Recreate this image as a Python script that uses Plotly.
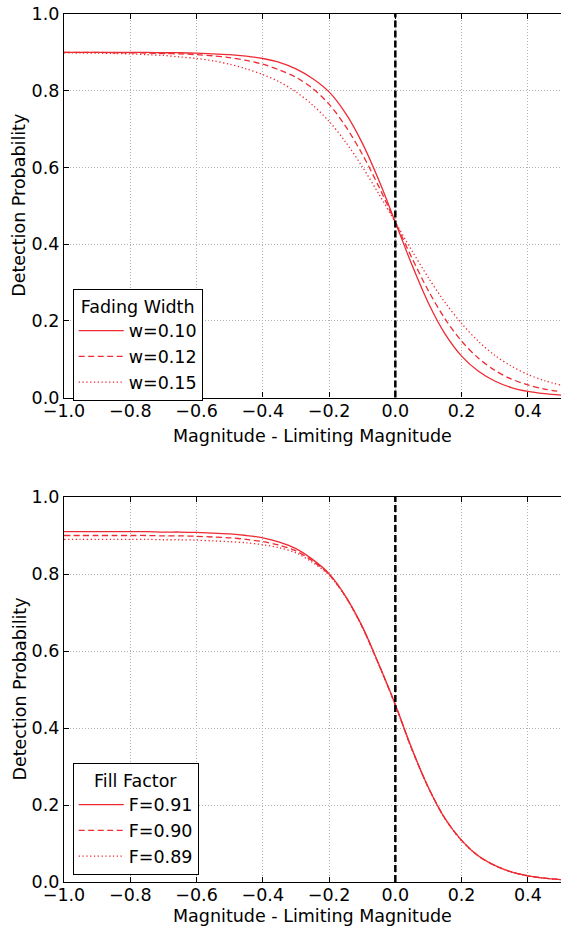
import plotly.graph_objects as go

# ---------------- data ----------------
mag = [-1.0, -0.95, -0.9, -0.85, -0.8, -0.75, -0.7, -0.65, -0.6, -0.55,
       -0.5, -0.45, -0.4, -0.35, -0.3, -0.25, -0.2, -0.15, -0.1, -0.05,
       0.0, 0.05, 0.1, 0.15, 0.2, 0.25, 0.3, 0.35, 0.4, 0.45, 0.5]

# top panel: fading width
w_labels = ["w=0.10", "w=0.12", "w=0.15"]
p_w010 = [0.900, 0.900, 0.900, 0.900, 0.900, 0.900, 0.899, 0.899, 0.898, 0.896,
          0.894, 0.890, 0.884, 0.874, 0.857, 0.832, 0.797, 0.741, 0.664, 0.567,
          0.457, 0.346, 0.246, 0.166, 0.108, 0.069, 0.043, 0.026, 0.016, 0.010, 0.006]
p_w012 = [0.900, 0.900, 0.900, 0.899, 0.899, 0.898, 0.897, 0.896, 0.894, 0.891,
          0.886, 0.879, 0.869, 0.854, 0.835, 0.806, 0.765, 0.707, 0.635, 0.550,
          0.457, 0.364, 0.278, 0.205, 0.147, 0.103, 0.071, 0.048, 0.033, 0.022, 0.015]
p_w015 = [0.899, 0.898, 0.898, 0.897, 0.896, 0.894, 0.892, 0.888, 0.884, 0.878,
          0.869, 0.857, 0.842, 0.823, 0.797, 0.763, 0.720, 0.666, 0.602, 0.531,
          0.457, 0.383, 0.312, 0.248, 0.193, 0.147, 0.110, 0.082, 0.060, 0.044, 0.032]

# bottom panel: fill factor
f_labels = ["F=0.91", "F=0.90", "F=0.89"]
p_f091 = [0.910, 0.910, 0.910, 0.910, 0.910, 0.910, 0.909, 0.909, 0.908, 0.906,
          0.904, 0.900, 0.894, 0.883, 0.866, 0.838, 0.801, 0.742, 0.664, 0.566,
          0.461, 0.346, 0.245, 0.165, 0.108, 0.068, 0.043, 0.026, 0.016, 0.010, 0.006]
p_f090 = [0.900, 0.900, 0.900, 0.900, 0.900, 0.900, 0.899, 0.899, 0.898, 0.896,
          0.894, 0.890, 0.884, 0.875, 0.860, 0.834, 0.799, 0.741, 0.663, 0.565,
          0.460, 0.345, 0.245, 0.165, 0.108, 0.068, 0.043, 0.026, 0.016, 0.010, 0.006]
p_f089 = [0.890, 0.890, 0.890, 0.890, 0.890, 0.890, 0.889, 0.889, 0.888, 0.886,
          0.884, 0.881, 0.876, 0.868, 0.855, 0.830, 0.797, 0.740, 0.662, 0.564,
          0.459, 0.344, 0.244, 0.164, 0.107, 0.068, 0.043, 0.026, 0.016, 0.010, 0.006]

limit_x = [0.0]
x_ticks = [-1.0, -0.8, -0.6, -0.4, -0.2, 0.0, 0.2, 0.4]
y_ticks = [0.0, 0.2, 0.4, 0.6, 0.8, 1.0]

# ---------------- styling ----------------
W, H = 561, 926
RED = "#ee2a33"
FONT = "DejaVu Sans"
FS = 17.5
dashes = ["solid", "6px,3.5px", "1.3px,2.5px"]

fig = go.Figure()

top_series = [p_w010, p_w012, p_w015]
for lab, ys, d in zip(w_labels, top_series, dashes):
    fig.add_trace(go.Scatter(x=mag, y=ys, mode="lines", name=lab,
                             line=dict(color=RED, width=1.3, dash=d, shape="spline", smoothing=0.9),
                             xaxis="x", yaxis="y", legend="legend"))

bot_series = [p_f091, p_f090, p_f089]
for lab, ys, d in zip(f_labels, bot_series, dashes):
    fig.add_trace(go.Scatter(x=mag, y=ys, mode="lines", name=lab,
                             line=dict(color=RED, width=1.3, dash=d, shape="spline", smoothing=0.9),
                             xaxis="x2", yaxis="y2", legend="legend2"))

for xr, yr in (("x", "y"), ("x2", "y2")):
    for xv in limit_x:
        fig.add_shape(type="line", xref=xr, yref=yr + " domain", x0=xv, x1=xv, y0=0, y1=1,
                      line=dict(color="black", width=2.5, dash="7px,3px"), layer="above")

xdom = [64 / W, 1.0]
ydom_top = [1 - 397.5 / H, 1 - 14 / H]
ydom_bot = [1 - 882 / H, 1 - 497 / H]

axis_common = dict(showline=True, linecolor="black", linewidth=1.2,
                   ticks="inside", ticklen=5, tickcolor="black", automargin=False,
                   showgrid=True, gridcolor="#b0b0b0", griddash="1px,2px", gridwidth=1,
                   zeroline=False, tickfont=dict(family=FONT, size=FS, color="black"))

fig.update_layout(
    width=W, height=H, margin=dict(l=0, r=0, t=0, b=0),
    paper_bgcolor="white", plot_bgcolor="white",
    font=dict(family=FONT, size=FS, color="black"),
    xaxis=dict(domain=xdom, range=[-1.0, 0.5], tickvals=x_ticks, tickformat=".1f",
               anchor="y", mirror="allticks", ticklabelstandoff=-3, **axis_common),
    yaxis=dict(domain=ydom_top, range=[0.0, 1.0], tickvals=y_ticks, tickformat=".1f",
               anchor="x", mirror=False, **axis_common),
    xaxis2=dict(domain=xdom, range=[-1.0, 0.5], tickvals=x_ticks, tickformat=".1f",
                anchor="y2", mirror="allticks", ticklabelstandoff=-3, **axis_common),
    yaxis2=dict(domain=ydom_bot, range=[0.0, 1.0], tickvals=y_ticks, tickformat=".1f",
                anchor="x2", mirror=False, **axis_common),
    legend=dict(x=72.7 / W, y=1 - 289 / H, xanchor="left", yanchor="top",
                bgcolor="white", bordercolor="black", borderwidth=1,
                title=dict(text="Fading Width", side="top center", font=dict(family=FONT, size=FS)),
                font=dict(family=FONT, size=FS), tracegroupgap=0, itemwidth=45),
    legend2=dict(x=72.7 / W, y=1 - 763 / H, xanchor="left", yanchor="top",
                 bgcolor="white", bordercolor="black", borderwidth=1,
                 title=dict(text="Fill Factor", side="top center", font=dict(family=FONT, size=FS)),
                 font=dict(family=FONT, size=FS), tracegroupgap=0, itemwidth=45),
    showlegend=True,
)

# axis titles
for yc in ((14 + 397.5) / 2, (497 + 882) / 2):
    fig.add_annotation(text="Detection Probability", xref="paper", yref="paper",
                       x=19 / W, y=1 - yc / H, showarrow=False, textangle=-90,
                       font=dict(family=FONT, size=FS), xanchor="center", yanchor="middle")
for yc in (436, 916):
    fig.add_annotation(text="Magnitude - Limiting Magnitude", xref="paper", yref="paper",
                       x=(64 + 561) / 2 / W, y=1 - yc / H, showarrow=False,
                       font=dict(family=FONT, size=FS), xanchor="center", yanchor="middle")

fig.write_html("out.html")
